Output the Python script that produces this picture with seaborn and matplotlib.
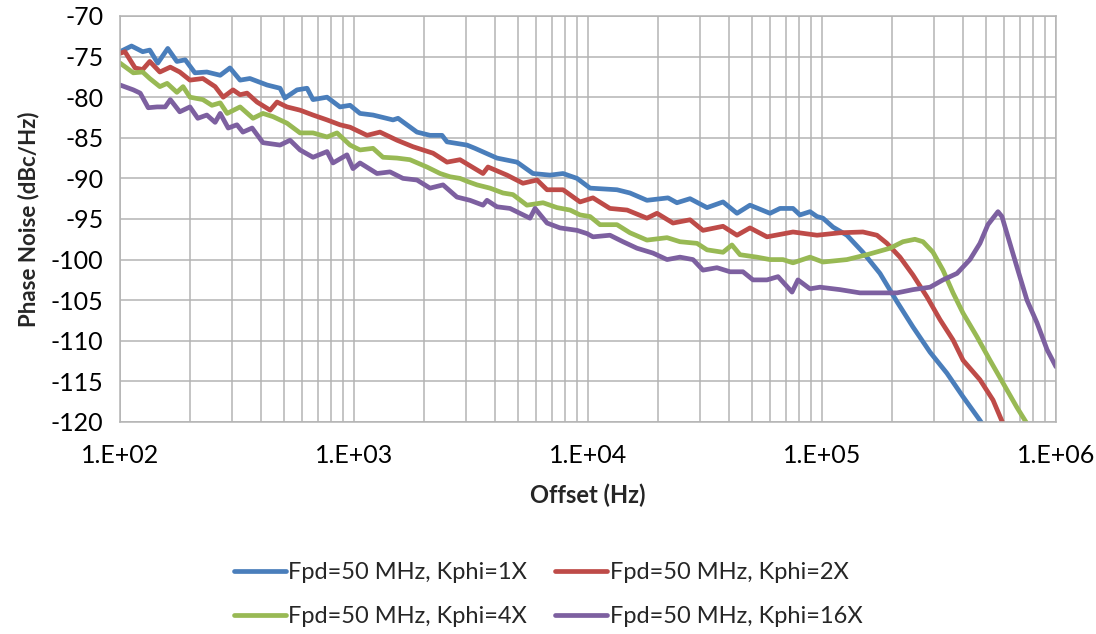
import numpy as np
import pandas as pd
import matplotlib
matplotlib.use("Agg")
import matplotlib.pyplot as plt
import matplotlib.ticker as mticker
import seaborn as sns

# data (offset in Hz, phase noise in dBc/Hz)
f_1x = [100, 112, 125, 134, 145, 160, 175, 190, 209, 235, 268, 295, 326, 359, 425, 483, 507,
        571, 630, 668, 767, 871, 962, 1061, 1206, 1468, 1542, 1858, 2113, 2378, 2497, 3040,
        3289, 4083, 4973, 5817, 6883, 7822, 8977, 10206, 13300, 15110, 17860, 21980, 23990,
        27290, 32270, 37750, 43330, 49230, 59940, 66170, 75170, 80520, 88850, 95230, 100900,
        111400, 127800, 149600, 176900, 209300, 244800, 289500, 342000, 400700, 473200, 482800]
pn_1x = [-74.4, -73.7, -74.4, -74.2, -75.8, -74.0, -75.6, -75.4, -77.0, -76.9, -77.3, -76.4,
         -77.9, -77.7, -78.5, -78.9, -80.1, -79.1, -78.9, -80.3, -80.0, -81.2, -81.0, -82.0,
         -82.2, -82.8, -82.6, -84.3, -84.7, -84.7, -85.5, -85.9, -86.3, -87.5, -88.0, -89.4,
         -89.6, -89.4, -90.0, -91.2, -91.4, -91.8, -92.7, -92.4, -93.0, -92.5, -93.6, -92.9,
         -94.3, -93.3, -94.3, -93.7, -93.7, -94.5, -94.1, -94.7, -94.9, -96.0, -97.0, -99.1,
         -101.7, -105.2, -108.3, -111.4, -114.0, -116.9, -119.8, -120.2]

f_2x = [100, 105, 116, 125, 134, 148, 164, 180, 199, 226, 255, 276, 304, 326, 349, 385, 438,
        469, 517, 588, 668, 767, 871, 962, 1137, 1291, 1527, 1786, 2177, 2497, 2837, 3558,
        3738, 4508, 5271, 6057, 6683, 7822, 9247, 10500, 12410, 14690, 17860, 19710, 23080,
        27290, 30990, 37750, 43330, 49230, 58200, 75170, 95230, 119300, 149600, 171700,
        189500, 215400, 244800, 281000, 319400, 363100, 400700, 473200, 538100, 593700]
pn_2x = [-74.6, -74.4, -76.4, -76.6, -75.6, -76.9, -76.3, -76.9, -77.9, -77.7, -78.7, -80.0,
         -79.1, -79.7, -79.5, -80.6, -81.6, -80.6, -81.2, -81.6, -82.2, -82.8, -83.4, -83.7,
         -84.7, -84.3, -85.3, -86.1, -86.9, -88.0, -87.7, -89.4, -88.6, -89.6, -90.6, -90.2,
         -91.4, -91.4, -92.9, -92.4, -93.7, -93.9, -94.9, -94.3, -95.5, -95.1, -96.4, -95.9,
         -97.0, -96.1, -97.2, -96.6, -97.0, -96.7, -96.6, -97.0, -98.0, -99.7, -101.9,
         -104.6, -107.4, -109.9, -112.4, -114.8, -117.3, -120.2]

f_4x = [100, 114, 125, 134, 148, 159, 175, 186, 199, 226, 247, 268, 287, 326, 370, 408, 451,
        517, 588, 668, 767, 846, 962, 1061, 1206, 1330, 1527, 1734, 2050, 2333, 2573, 2837,
        3069, 3355, 3811, 4334, 4779, 5482, 6425, 7374, 8380, 9247, 10206, 11250, 13300,
        15110, 17860, 21770, 24720, 29240, 32270, 37750, 41220, 44630, 52730, 59940, 68120,
        75170, 88850, 100900, 127800, 155600, 195300, 221800, 249500, 270200, 298100,
        328900, 363100, 400700, 459400, 522400, 593700, 680700, 751600]
pn_4x = [-75.8, -77.0, -76.9, -77.7, -78.7, -78.3, -79.4, -78.7, -80.0, -80.3, -81.0, -80.7,
         -82.0, -81.2, -82.6, -82.0, -82.4, -83.2, -84.4, -84.4, -84.9, -84.4, -85.9, -86.5,
         -86.3, -87.4, -87.5, -87.7, -88.6, -89.4, -89.8, -90.0, -90.4, -90.8, -91.2, -91.8,
         -92.0, -93.3, -93.0, -93.6, -93.9, -94.5, -94.7, -95.7, -95.7, -96.7, -97.6, -97.3,
         -97.8, -98.0, -98.8, -99.1, -98.2, -99.4, -99.7, -100.0, -100.0, -100.4, -99.7,
         -100.3, -100.0, -99.4, -98.6, -97.8, -97.5, -97.8, -99.1, -101.3, -104.1, -106.6,
         -109.5, -112.4, -115.2, -118.2, -120.2]

f_16x = [100, 114, 122, 132, 144, 156, 164, 180, 199, 215, 235, 255, 268, 290, 316, 335, 367,
         408, 483, 533, 588, 668, 767, 813, 933, 990, 1061, 1254, 1425, 1619, 1858, 2113,
         2401, 2754, 3131, 3558, 3701, 4083, 4642, 5118, 5649, 5938, 6683, 7594, 8977, 9908,
         10500, 12410, 14110, 16190, 18950, 21770, 24720, 28110, 30990, 35580, 40450, 45940,
         50700, 58200, 64890, 74460, 78920, 88850, 98040, 119300, 145300, 176900, 209300,
         244800, 289500, 328900, 377600, 428800, 473200, 511700, 565000, 587500, 635300,
         680700, 751600, 829800, 916200, 1000000]
pn_16x = [-78.5, -79.1, -79.5, -81.3, -81.2, -81.2, -80.3, -81.8, -81.2, -82.6, -82.2, -83.1,
          -82.0, -83.8, -83.4, -84.3, -83.8, -85.6, -85.9, -85.3, -86.5, -87.4, -86.7, -88.1,
          -87.1, -88.8, -88.1, -89.4, -89.2, -90.0, -90.2, -91.2, -90.8, -92.3, -92.7, -93.3,
          -92.7, -93.5, -93.7, -94.3, -94.9, -93.7, -95.5, -96.1, -96.4, -96.8, -97.2, -97.0,
          -97.8, -98.6, -99.2, -100.0, -99.7, -100.0, -101.3, -101.0, -101.5, -101.5, -102.5,
          -102.5, -102.1, -104.0, -102.5, -103.6, -103.4, -103.7, -104.1, -104.1, -104.1,
          -103.7, -103.4, -102.5, -101.7, -100.0, -98.0, -95.7, -94.1, -94.7, -98.0, -100.9,
          -105.0, -107.8, -111.1, -113.2]

labels = ["Fpd=50 MHz, Kphi=1X", "Fpd=50 MHz, Kphi=2X",
          "Fpd=50 MHz, Kphi=4X", "Fpd=50 MHz, Kphi=16X"]
colors = ["#4A7EBB", "#BE4B48", "#98B954", "#7D60A0"]

frames = []
for lab, f, pn in zip(labels, [f_1x, f_2x, f_4x, f_16x], [pn_1x, pn_2x, pn_4x, pn_16x]):
    frames.append(pd.DataFrame({"offset": f, "pn": pn, "series": lab}))
df = pd.concat(frames, ignore_index=True)

sns.set_theme(style="white")
plt.rcParams["font.family"] = ["Lato", "DejaVu Sans"]
plt.rcParams["axes.unicode_minus"] = False

fig, ax = plt.subplots(figsize=(10.96, 6.34), dpi=100)
fig.subplots_adjust(left=0.1095, right=0.9635, top=0.9748, bottom=0.3344)

sns.lineplot(data=df, x="offset", y="pn", hue="series", palette=dict(zip(labels, colors)),
             estimator=None, sort=False, linewidth=3.4, ax=ax, legend=False)

ax.set_xscale("log")
ax.set_xlim(1e2, 1e6)
ax.set_ylim(-120, -70)
ax.set_yticks(np.arange(-120, -69, 5))
ax.xaxis.set_major_locator(mticker.LogLocator(base=10, numticks=10))
ax.xaxis.set_minor_locator(mticker.LogLocator(base=10, subs=np.arange(2, 10), numticks=100))
ax.xaxis.set_minor_formatter(mticker.NullFormatter())
ax.xaxis.set_major_formatter(mticker.FuncFormatter(
    lambda v, _: "1.E+%02d" % int(round(np.log10(v)))))

gcol = "#B4B4B4"
ax.grid(which="major", axis="both", color=gcol, linewidth=1.1)
ax.grid(which="minor", axis="x", color=gcol, linewidth=1.1)
for s in ax.spines.values():
    s.set_color(gcol)
    s.set_linewidth(1.1)
ax.tick_params(axis="both", which="major", length=7, width=1.1, color=gcol,
               labelsize=18, labelcolor="#000000")
ax.tick_params(axis="y", pad=5)
ax.tick_params(axis="x", pad=9)
ax.tick_params(axis="x", which="minor", length=0)

ax.set_xlabel("Offset (Hz)", fontsize=17, fontweight="bold", labelpad=12)
ax.set_ylabel("Phase Noise (dBc/Hz)", fontsize=16, fontweight="bold", labelpad=8)

handles = [plt.Line2D([], [], color=c, linewidth=3.4) for c in colors]
order = [0, 2, 1, 3]
fig.legend([handles[i] for i in order], [labels[i] for i in order],
           loc="center", bbox_to_anchor=(0.5, 0.062), ncol=2, frameon=False,
           fontsize=17, handlelength=2.2, handletextpad=0.1, columnspacing=1.2,
           labelspacing=1.0)

fig.savefig("out.png", dpi=100)
